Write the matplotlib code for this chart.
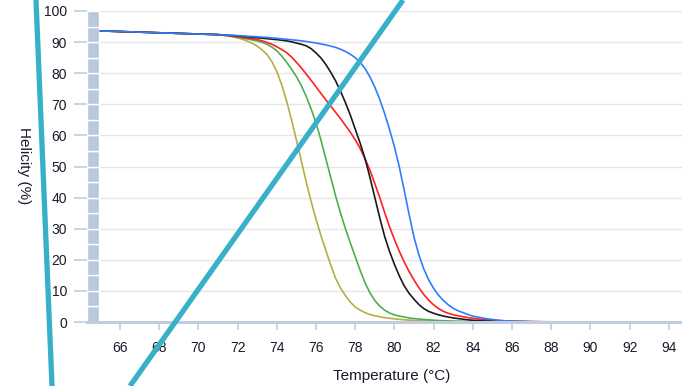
import matplotlib
matplotlib.use("Agg")
import matplotlib.pyplot as plt
from matplotlib.lines import Line2D

plt.rcParams['font.family'] = ['Liberation Sans', 'DejaVu Sans']

temps = [65, 66, 67, 68, 69, 70,
         71, 71.25, 71.5, 71.75, 72, 72.25, 72.5, 72.75, 73, 73.25, 73.5, 73.75,
         74, 74.25, 74.5, 74.75, 75, 75.25, 75.5, 75.75, 76, 76.25, 76.5, 76.75,
         77, 77.25, 77.5, 77.75, 78, 78.25, 78.5, 78.75, 79, 79.25, 79.5, 79.75,
         80, 80.25, 80.5, 80.75, 81, 81.25, 81.5, 81.75, 82, 82.25, 82.5, 82.75,
         83, 83.25, 83.5, 83.75, 84, 84.25, 84.5, 84.75, 85, 85.25, 85.5, 85.75,
         86, 87, 88, 90, 92, 95]

yellow = [93.6, 93.4, 93.2, 93.0, 92.8, 92.6,
          92.4, 92.2, 92.0, 91.7, 91.3, 90.9, 90.3, 89.6, 88.7, 87.5, 86.0, 83.7,
          80.5, 76.2, 71.0, 65.0, 58.5, 51.8, 45.0, 38.7, 33.0, 27.8, 23.0, 18.3,
          14.0, 10.9, 8.5, 6.4, 4.8, 3.8, 3.0, 2.4, 2.0, 1.7, 1.4, 1.2,
          1.0, 0.85, 0.7, 0.6, 0.5, 0.42, 0.35, 0.3, 0.25, 0.22, 0.2, 0.17,
          0.15, 0.13, 0.12, 0.11, 0.1, 0.09, 0.07, 0.06, 0.05, 0.04, 0.03, 0.02,
          0.0, 0.0, 0.0, 0.0, 0.0, 0.0]
green = [93.6, 93.4, 93.2, 93.0, 92.8, 92.6,
         92.4, 92.25, 92.1, 91.9, 91.6, 91.3, 91.0, 90.7, 90.4, 89.9, 89.3, 88.4,
         87.2, 85.5, 83.5, 81.3, 78.9, 76.0, 72.5, 68.5, 64.0, 58.5, 52.5, 46.5,
         40.5, 35.0, 30.0, 25.4, 21.0, 16.6, 12.6, 9.4, 6.9, 5.1, 3.8, 2.9,
         2.3, 1.9, 1.6, 1.3, 1.1, 0.95, 0.8, 0.68, 0.57, 0.48, 0.4, 0.34,
         0.29, 0.25, 0.21, 0.18, 0.15, 0.12, 0.1, 0.08, 0.07, 0.05, 0.04, 0.02,
         0.0, 0.0, 0.0, 0.0, 0.0, 0.0]
red = [93.6, 93.4, 93.2, 93.0, 92.8, 92.6,
       92.4, 92.25, 92.1, 91.9, 91.7, 91.5, 91.3, 91.1, 90.8, 90.4, 89.9, 89.3,
       88.5, 87.6, 86.6, 85.2, 83.5, 81.7, 79.7, 77.7, 75.6, 73.5, 71.4, 69.4,
       67.4, 65.4, 63.2, 61.0, 58.6, 55.8, 52.5, 48.8, 44.5, 40.0, 35.2, 30.6,
       26.5, 22.7, 19.3, 16.2, 13.5, 11.0, 8.8, 7.0, 5.5, 4.3, 3.4, 2.8,
       2.3, 2.0, 1.7, 1.4, 1.2, 1.0, 0.85, 0.7, 0.6, 0.5, 0.4, 0.35,
       0.3, 0.15, 0.05, 0.0, 0.0, 0.0]
black = [93.6, 93.4, 93.2, 93.0, 92.8, 92.6,
         92.4, 92.3, 92.2, 92.1, 92.0, 91.85, 91.7, 91.55, 91.4, 91.25, 91.1, 90.95,
         90.8, 90.6, 90.4, 90.1, 89.7, 89.3, 88.8, 87.9, 86.5, 84.9, 82.8, 80.3,
         77.5, 74.2, 70.5, 66.5, 62.0, 57.5, 52.5, 46.5, 40.0, 33.5, 27.5, 22.7,
         18.5, 14.8, 11.6, 9.2, 7.3, 5.6, 4.3, 3.4, 2.8, 2.3, 1.9, 1.6,
         1.3, 1.1, 0.9, 0.7, 0.55, 0.45, 0.35, 0.3, 0.25, 0.2, 0.15, 0.12,
         0.1, 0.05, 0.0, 0.0, 0.0, 0.0]
blue = [93.6, 93.4, 93.2, 93.0, 92.8, 92.6,
        92.4, 92.33, 92.25, 92.18, 92.1, 92.0, 91.9, 91.8, 91.7, 91.6, 91.5, 91.35,
        91.2, 91.05, 90.9, 90.75, 90.6, 90.4, 90.2, 89.95, 89.7, 89.4, 89.1, 88.7,
        88.3, 87.7, 87.0, 86.1, 85.0, 83.5, 81.5, 78.8, 75.5, 71.6, 67.0, 61.9,
        56.3, 49.8, 42.3, 34.5, 27.2, 21.5, 17.0, 13.5, 10.8, 8.6, 6.9, 5.5,
        4.4, 3.6, 3.0, 2.4, 1.9, 1.6, 1.3, 1.0, 0.8, 0.6, 0.45, 0.35,
        0.3, 0.1, 0.0, 0.0, 0.0, 0.0]

series = [("yellow", yellow, "#b5ae44"), ("green", green, "#4fae4f"),
          ("red", red, "#ff2020"), ("black", black, "#1a1a1a"),
          ("blue", blue, "#2f7cff")]

bar_lows = [0, 5, 10, 15, 20, 25, 30, 35, 40, 45, 50, 55, 60, 65, 70, 75, 80, 85, 90, 95]
bar_step = 5

x_ticks = [66, 68, 70, 72, 74, 76, 78, 80, 82, 84, 86, 88, 90, 92, 94]
y_ticks = [0, 10, 20, 30, 40, 50, 60, 70, 80, 90, 100]

fig = plt.figure(figsize=(6.82, 3.86), dpi=100)
ax = fig.add_axes([87.3 / 682, 1 - 322 / 386, 1 - 87.3 / 682, (322 - 11) / 386])
ax.set_xlim(64.33, 94.67)
ax.set_ylim(0, 100)

ax.grid(axis='y', color='#e6e6e6', linewidth=1.0)
ax.set_axisbelow(True)

# segmented band on the left
ax.bar([64.33] * len(bar_lows), [bar_step] * len(bar_lows), bottom=bar_lows,
       width=0.62, align='edge', color='#b9c8dc', edgecolor='white', linewidth=1.0,
       zorder=2)

for name, vals, col in series:
    ax.plot(temps, vals, color=col, linewidth=1.2, zorder=3,
            solid_joinstyle='round', solid_capstyle='round')

for s in ['top', 'right', 'left']:
    ax.spines[s].set_visible(False)
ax.spines['bottom'].set_color('#c0cde0')
ax.spines['bottom'].set_linewidth(2.2)
ax.spines['bottom'].set_zorder(4)

ax.set_xticks(x_ticks)
ax.set_yticks(y_ticks)
ax.tick_params(axis='y', length=9.5, width=1.2, color='#c0cde0', pad=5,
               labelsize=10, labelcolor='#1a1a2a')
ax.tick_params(axis='x', length=6, width=1.2, color='#c0cde0', pad=8,
               labelsize=10, labelcolor='#1a1a2a')

fig.text(392 / 682, 1 - 376 / 386, "Temperature (°C)", ha='center', va='center',
         fontsize=11, color='#1a1a2a')
fig.text(24 / 682, 1 - 166 / 386, "Helicity (%)", ha='center', va='center',
         rotation=-90, fontsize=11, color='#1a1a2a')

# overlay strokes
fig.add_artist(Line2D([36 / 682, 52 / 682], [1.0, 0.0], transform=fig.transFigure,
                      color='#38b0c9', linewidth=3.8, solid_capstyle='butt', zorder=10))
fig.add_artist(Line2D([403 / 682, 130 / 682], [1.0, 0.0], transform=fig.transFigure,
                      color='#38b0c9', linewidth=3.8, solid_capstyle='butt', zorder=10))

fig.savefig("out.png", dpi=100)
